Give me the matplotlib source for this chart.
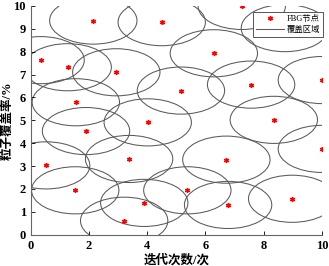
import matplotlib.pyplot as plt
from matplotlib.patches import Ellipse
from matplotlib.lines import Line2D

plt.rcParams['font.family'] = ['Liberation Serif', 'Noto Sans CJK SC']

# FBG node positions
node_x = [2.15, 4.50, 7.25, 8.73, 0.34, 1.27, 2.94, 6.29, 5.16, 7.57, 10.0,
          1.55, 4.02, 8.35, 1.90, 0.53, 3.38, 1.53, 3.90, 3.21, 10.0, 6.72,
          5.38, 6.78, 8.98]
node_y = [9.36, 9.29, 10.0, 9.03, 7.63, 7.32, 7.10, 7.93, 6.30, 6.56, 6.76,
          5.79, 4.91, 5.02, 4.53, 3.03, 3.31, 1.94, 1.39, 0.61, 3.75, 3.28,
          1.94, 1.30, 1.57]

# coverage area size (ellipse width / height in data units)
cover_w = 3.0
cover_h = 2.06

x_ticks = [0, 2, 4, 6, 8, 10]
y_ticks = list(range(0, 11))

fig = plt.figure(figsize=(3.29, 2.66), dpi=100)
ax = fig.add_axes([0.0933, 0.1177, 0.885, 0.86])

for x, y in zip(node_x, node_y):
    e = Ellipse((x, y), cover_w, cover_h, fill=False, edgecolor='#5a5a5a', lw=0.75)
    ax.add_patch(e)

ax.plot(node_x, node_y, linestyle='none', marker=(6, 2, 0), markersize=3.5,
        markeredgewidth=1.0, color='red')

ax.set_xlim(0, 10)
ax.set_ylim(0, 10)
ax.set_xticks(x_ticks)
ax.set_yticks(y_ticks)
ax.tick_params(direction='in', length=3, width=0.6, labelsize=9)
for lab in ax.get_xticklabels() + ax.get_yticklabels():
    lab.set_fontweight('bold')
ax.spines['top'].set_visible(False)
ax.spines['right'].set_visible(False)
for s in ['left', 'bottom']:
    ax.spines[s].set_color('#666666')
    ax.spines[s].set_linewidth(0.8)

ax.set_xlabel('迭代次数/次', fontsize=9, fontweight='bold', labelpad=2)
ax.set_ylabel('粒子覆盖率/%', fontsize=9, fontweight='bold')
ax.yaxis.set_label_coords(-0.058, 0.5)

handles = [
    Line2D([], [], linestyle='none', marker=(6, 2, 0), markersize=3.5,
           markeredgewidth=1.0, color='red'),
    Line2D([], [], color='#5a5a5a', lw=0.75),
]
leg = ax.legend(handles, ['FBG节点', '覆盖区域'], loc='upper right',
                bbox_to_anchor=(1.005, 0.973), fontsize=6, frameon=True,
                fancybox=False, framealpha=1, edgecolor='#555555',
                handlelength=3.3, borderpad=0.35, labelspacing=0.3,
                handletextpad=0.4, borderaxespad=0)
leg.get_frame().set_linewidth(0.7)
leg.set_zorder(5)

fig.savefig('out.png', dpi=100)
